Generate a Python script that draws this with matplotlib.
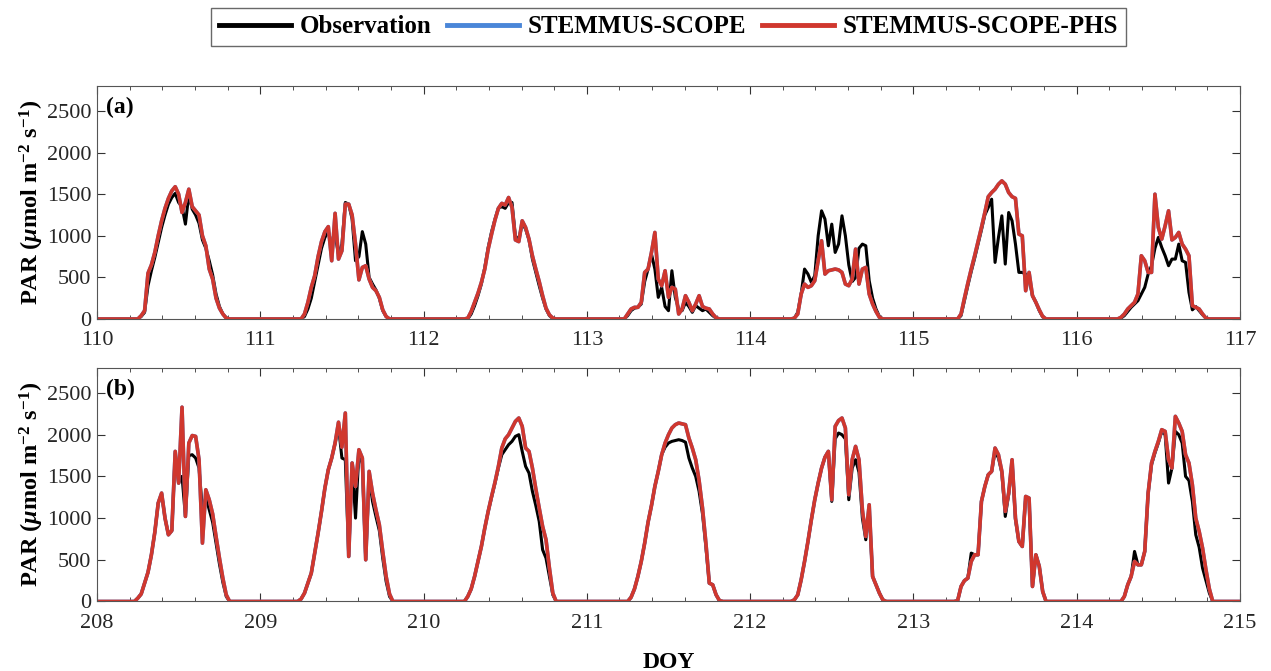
import numpy as np
import matplotlib
matplotlib.use('Agg')
import matplotlib.pyplot as plt
from matplotlib.ticker import MultipleLocator

plt.rcParams['font.family'] = ['Liberation Serif', 'DejaVu Serif']
plt.rcParams['mathtext.fontset'] = 'custom'
plt.rcParams['mathtext.rm'] = 'Liberation Serif:bold'
plt.rcParams['mathtext.bf'] = 'Liberation Serif:bold'
plt.rcParams['mathtext.it'] = 'Liberation Serif:italic:bold'

# half-hourly daytime PAR, 06:00 to 19:30 (28 values per day), zero at night
days_a = [110, 111, 112, 113, 114, 115, 116]
days_b = [208, 209, 210, 211, 212, 213, 214]

obs_a = [
    [0, 30, 80, 400, 580, 740, 920, 1100, 1250, 1380, 1460, 1510, 1400, 1350,
     1140, 1500, 1320, 1250, 1150, 950, 850, 700, 530, 300, 150, 60, 15, 0],
    [0, 30, 120, 250, 450, 650, 850, 980, 1050, 900, 1000, 780, 900, 1400,
     1380, 1200, 700, 750, 1050, 900, 500, 420, 350, 250, 100, 30, 0, 0],
    [0, 0, 60, 160, 280, 420, 620, 860, 1050, 1200, 1330, 1350, 1330, 1400,
     1400, 1000, 950, 1150, 1080, 950, 720, 560, 400, 250, 120, 40, 5, 0],
    [40, 100, 130, 140, 180, 450, 600, 780, 600, 260, 380, 150, 100, 580,
     260, 120, 100, 200, 150, 80, 160, 130, 100, 120, 80, 40, 10, 0],
    [0, 10, 80, 300, 600, 540, 440, 520, 1000, 1300, 1200, 880, 1140, 800,
     900, 1240, 1000, 650, 450, 500, 850, 900, 880, 460, 250, 120, 30, 0],
    [0, 0, 40, 220, 400, 570, 730, 900, 1070, 1250, 1340, 1440, 680, 980,
     1240, 660, 1280, 1180, 900, 560, 560, 540, 480, 280, 200, 100, 25, 0],
    [0, 10, 40, 90, 140, 180, 220, 300, 380, 540, 640, 850, 980, 860,
     760, 640, 720, 720, 900, 700, 680, 320, 110, 150, 100, 50, 10, 0],
]

phs_a = [
    [0, 40, 100, 550, 650, 800, 1000, 1180, 1330, 1450, 1540, 1590, 1500, 1280,
     1400, 1560, 1350, 1300, 1250, 1000, 880, 600, 480, 250, 130, 60, 10, 0],
    [0, 60, 200, 380, 520, 750, 930, 1050, 1110, 700, 1270, 720, 820, 1380,
     1380, 1250, 900, 470, 620, 640, 480, 380, 340, 260, 110, 30, 0, 0],
    [0, 10, 90, 200, 310, 440, 600, 840, 1020, 1190, 1330, 1390, 1370, 1460,
     1340, 950, 930, 1180, 1100, 960, 760, 600, 450, 280, 130, 50, 10, 0],
    [60, 120, 140, 140, 200, 560, 600, 800, 1040, 480, 400, 580, 260, 380,
     360, 60, 120, 280, 200, 100, 180, 280, 150, 130, 120, 60, 15, 0],
    [0, 10, 60, 300, 420, 380, 400, 460, 700, 940, 540, 580, 590, 600,
     590, 560, 420, 400, 480, 840, 420, 600, 620, 300, 180, 90, 20, 0],
    [0, 0, 60, 250, 430, 600, 760, 930, 1100, 1280, 1470, 1520, 1560, 1620,
     1660, 1620, 1520, 1470, 1450, 1020, 1000, 340, 560, 280, 200, 110, 30, 0],
    [0, 20, 60, 120, 160, 200, 300, 760, 700, 560, 560, 1500, 1100, 960,
     1120, 1300, 950, 980, 1040, 900, 840, 760, 160, 140, 120, 60, 10, 0],
]

obs_b = [
    [40, 90, 220, 350, 560, 830, 1180, 1290, 1000, 800, 850, 1780, 1420, 1500,
     1020, 1750, 1760, 1720, 1600, 1100, 1250, 1100, 950, 700, 450, 230, 60, 0],
    [30, 100, 220, 340, 580, 820, 1080, 1360, 1580, 1720, 1900, 2100, 1720, 1700,
     540, 1660, 1000, 1780, 1650, 500, 1500, 1200, 1020, 850, 520, 240, 60, 0],
    [0, 60, 150, 300, 480, 660, 880, 1080, 1250, 1420, 1600, 1760, 1820, 1880,
     1920, 1980, 2000, 1800, 1620, 1540, 1320, 1150, 960, 620, 520, 300, 80, 0],
    [0, 50, 150, 300, 480, 700, 950, 1150, 1380, 1560, 1760, 1850, 1900, 1920,
     1930, 1940, 1930, 1910, 1720, 1600, 1500, 1320, 1050, 650, 220, 200, 80, 10],
    [0, 20, 80, 260, 480, 720, 980, 1220, 1420, 1600, 1730, 1800, 1200, 1950,
     2020, 2000, 1950, 1220, 1600, 1700, 1550, 1000, 740, 1100, 300, 200, 100, 20],
    [0, 10, 180, 250, 280, 580, 560, 560, 1200, 1380, 1520, 1560, 1800, 1720,
     1540, 1020, 1280, 1680, 980, 720, 660, 1240, 1220, 180, 560, 420, 120, 0],
    [0, 0, 60, 200, 300, 600, 440, 440, 600, 1300, 1640, 1780, 1900, 2040,
     2000, 1420, 1600, 2040, 2000, 1900, 1500, 1450, 1200, 800, 650, 400, 250, 100],
]

phs_b = [
    [40, 90, 220, 350, 560, 830, 1180, 1300, 1000, 800, 850, 1800, 1420, 2330,
     1020, 1900, 1990, 1980, 1700, 700, 1340, 1220, 1050, 780, 520, 280, 80, 0],
    [30, 100, 220, 340, 580, 820, 1080, 1360, 1580, 1720, 1900, 2150, 1850, 2260,
     540, 1660, 1380, 1820, 1720, 500, 1560, 1300, 1100, 920, 600, 300, 90, 0],
    [0, 60, 150, 300, 480, 660, 880, 1080, 1260, 1430, 1620, 1840, 1950, 2000,
     2080, 2160, 2200, 2100, 1840, 1800, 1600, 1350, 1120, 900, 740, 400, 100, 0],
    [0, 50, 150, 300, 480, 700, 950, 1150, 1380, 1560, 1760, 1900, 2000, 2080,
     2120, 2140, 2130, 2120, 1960, 1840, 1700, 1450, 1120, 700, 220, 200, 80, 10],
    [0, 20, 80, 260, 480, 720, 980, 1220, 1420, 1600, 1730, 1800, 1220, 2100,
     2170, 2200, 2080, 1280, 1700, 1860, 1700, 1100, 780, 1160, 300, 200, 100, 20],
    [0, 10, 180, 250, 280, 480, 560, 560, 1200, 1380, 1520, 1560, 1840, 1760,
     1560, 1080, 1300, 1700, 1000, 720, 660, 1260, 1240, 180, 560, 420, 120, 0],
    [0, 0, 60, 200, 300, 480, 440, 440, 600, 1300, 1660, 1800, 1920, 2060,
     2040, 1700, 1600, 2220, 2140, 2040, 1760, 1660, 1400, 1000, 840, 640, 380, 150],
]

# STEMMUS-SCOPE run overlaps the PHS run everywhere at this scale
ss_a = phs_a
ss_b = phs_b


def to_series(days, daily):
    t, v = [], []
    for d, vals in zip(days, daily):
        full = np.zeros(48)
        full[12:40] = vals
        t.extend(d + np.arange(48) / 48)
        v.extend(full)
    t.append(days[-1] + 1)
    v.append(0)
    return np.array(t), np.array(v)


fig = plt.figure(figsize=(12.71, 6.71), dpi=100)
ax1 = fig.add_axes([0.0763, 0.5246, 0.8993, 0.3472])
ax2 = fig.add_axes([0.0763, 0.1036, 0.8993, 0.3480])

c_obs = 'black'
c_ss = '#4A86D8'
c_phs = '#D0372E'

for ax, days, obs, ss, phs, tag in [(ax1, days_a, obs_a, ss_a, phs_a, '(a)'),
                                    (ax2, days_b, obs_b, ss_b, phs_b, '(b)')]:
    t, v = to_series(days, obs)
    ax.plot(t, v, color=c_obs, lw=2.2, label='Observation')
    t, v = to_series(days, ss)
    ax.plot(t, v, color=c_ss, lw=2.6, label='STEMMUS-SCOPE')
    t, v = to_series(days, phs)
    ax.plot(t, v, color=c_phs, lw=2.6, label='STEMMUS-SCOPE-PHS')
    ax.set_xlim(days[0], days[-1] + 1)
    ax.set_ylim(0, 2800)
    ax.set_yticks([0, 500, 1000, 1500, 2000, 2500])
    ax.xaxis.set_major_locator(MultipleLocator(1))
    ax.xaxis.set_minor_locator(MultipleLocator(0.2))
    ax.tick_params(which='both', direction='in', top=True, right=True,
                   labelsize=16, colors='#333333', labelcolor='#262626')
    ax.tick_params(which='major', length=6)
    ax.tick_params(axis='x', which='major', pad=9)
    ax.tick_params(axis='y', which='major', pad=4)
    ax.tick_params(which='minor', length=3)
    for s in ax.spines.values():
        s.set_color('#555555')
        s.set_linewidth(0.8)
    ax.set_ylabel(r'PAR ($\mu$mol m$^{-2}$ s$^{-1}$)', fontsize=17.5,
                  fontweight='bold', labelpad=1)
    ax.text(0.008, 0.955, tag, transform=ax.transAxes, fontsize=17,
            fontweight='bold', va='top', ha='left')

ax2.set_xlabel('DOY', fontsize=17, fontweight='bold', labelpad=14)

handles, labels = ax1.get_legend_handles_labels()
leg = fig.legend(handles, labels, loc='center', bbox_to_anchor=(0.526, 0.960),
                 ncol=3, frameon=True, fancybox=False, edgecolor='#444444',
                 prop={'family': 'Liberation Serif', 'weight': 'bold', 'size': 18},
                 handlelength=2.9, columnspacing=0.6, handletextpad=0.35,
                 borderpad=0.3, borderaxespad=0.2)
leg.get_frame().set_linewidth(1.0)
for line in leg.get_lines():
    line.set_linewidth(3.5)

fig.savefig('out.png', dpi=100)
